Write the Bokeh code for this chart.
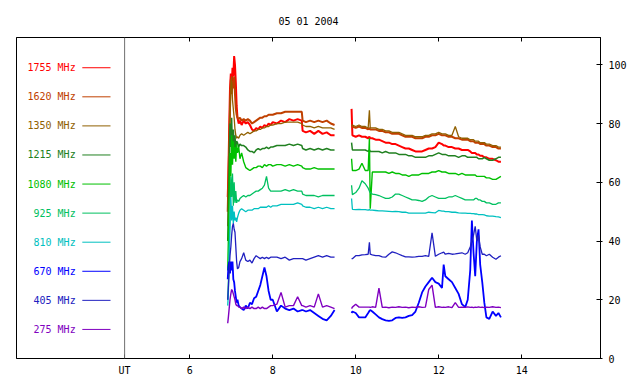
from bokeh.plotting import figure
from bokeh.models import LinearAxis, FixedTicker, Span, Range1d, ColumnDataSource
from bokeh.embed import file_html
from bokeh.resources import INLINE
from bokeh.core.properties import value

FONT = "DejaVu Sans Mono"

freq_labels = ["1755 MHz", "1620 MHz", "1350 MHz", "1215 MHz", "1080 MHz",
               "925 MHz", "810 MHz", "670 MHz", "405 MHz", "275 MHz"]
colors = ["#ff0000", "#c04000", "#906000", "#208020", "#00c000",
          "#00c060", "#00c0c0", "#0000ff", "#2020c0", "#8000c0"]
widths = [2.0, 2.0, 1.3, 1.5, 1.4, 1.3, 1.3, 1.8, 1.3, 1.4]

x_ticks = [6, 8, 10, 12, 14]
y_ticks = [0, 20, 40, 60, 80, 100]

# time (UT hours), first and second data segment
t1 = [6.915, 6.93, 6.95, 6.97, 6.99, 7.01, 7.03, 7.05, 7.07, 7.09, 7.11, 7.13, 7.15, 7.18,
      7.21, 7.25, 7.3, 7.35, 7.4, 7.45, 7.5, 7.55, 7.6, 7.65, 7.7, 7.75, 7.8, 7.85, 7.9,
      7.95, 8.0, 8.1, 8.2, 8.3, 8.4, 8.5, 8.6, 8.7, 8.72, 8.8, 8.9, 9.0, 9.1, 9.2, 9.3,
      9.4, 9.49]
t2 = [9.9, 9.92, 10.0, 10.08, 10.15, 10.23, 10.3, 10.33, 10.35, 10.4, 10.48, 10.56, 10.64,
      10.72, 10.8, 10.88, 10.96, 11.04, 11.12, 11.2, 11.28, 11.36, 11.44, 11.52, 11.6,
      11.68, 11.76, 11.84, 11.92, 12.0, 12.08, 12.12, 12.16, 12.24, 12.32, 12.4, 12.48,
      12.56, 12.64, 12.7, 12.76, 12.8, 12.84, 12.88, 12.92, 12.96, 13.0, 13.05, 13.1,
      13.15, 13.22, 13.3, 13.38, 13.44, 13.5]

f1755_a = [55, 62, 78, 92, 97, 92, 99, 96, 103, 100, 94, 86, 82, 80, 81, 79.5, 81, 80, 80.5,
           79.5, 78, 77.5, 78.5, 78, 79, 78.5, 79.5, 79, 80, 79.5, 80.5, 80, 81, 80.5, 81.5,
           81, 81.5, 81, 77.5, 77, 77.5, 76.5, 77.5, 76.5, 77, 76, 76]
f1755_b = [85, 76, 75.5, 76, 75.5, 75.5, 75, 75.5, 75, 75, 74.5, 74.5, 74, 73.5, 73.5, 73, 73,
           72.5, 72, 71.5, 71.5, 71, 70.5, 70.5, 70.5, 71, 71.5, 71.5, 72, 73.5, 73, 72.5,
           72.5, 72, 72, 71.5, 71.5, 71, 71, 71, 70.5, 70, 70, 70, 69.5, 69.5, 69, 69, 68.5,
           68.5, 68, 68, 67.5, 67, 67]
f1620_a = [50, 60, 72, 85, 95, 90, 94, 92, 96, 90, 85, 83, 82, 81.5, 82, 81, 81.5, 81, 81.5,
           81, 80, 80.5, 81, 81.5, 82, 82, 82.5, 82.5, 83, 83, 83, 83.5, 83.5, 84, 84, 84,
           84, 84, 81, 80.5, 81, 80.5, 81, 80.5, 81, 80, 79.5]
f1620_b = [79, 79, 78.5, 79, 78.5, 78.5, 78, 78.5, 78, 78, 78, 77.5, 77.5, 77, 77, 76.5, 76.5,
           76.5, 76, 75.5, 75.5, 75.5, 75, 75, 75, 75.5, 75.5, 76, 76, 76.5, 76, 76, 76, 75.5,
           75.5, 75, 75, 74.5, 74.5, 74.5, 74, 74, 74, 73.5, 73.5, 73.5, 73, 73, 73, 72.5,
           72.5, 72, 72, 71.5, 71.5]
f1350_a = [45, 55, 70, 85, 92, 96, 88, 85, 82, 78, 76, 75, 75.5, 75, 76, 76.5, 76, 76.5, 77,
           76.5, 77, 77.5, 77.5, 78, 78, 78.5, 78.5, 79, 79, 79.5, 79.5, 80, 80, 80.5, 80.5,
           80.5, 80.5, 80, 79.5, 79, 79, 78.5, 79, 78.5, 78.5, 78.5, 78]
f1350_b = [79.5, 79.5, 79, 79.5, 79, 79, 78.5, 84.5, 78.5, 78.5, 78.5, 78, 78, 77.5, 77.5, 77,
           77, 77, 76.5, 76, 76, 76, 75.5, 75.5, 75.5, 76, 76, 76.5, 76.5, 77, 76.5, 76.5,
           76.5, 76, 76, 79, 75.5, 75, 75, 75, 74.5, 74.5, 74.5, 74, 74, 74, 73.5, 73.5, 73.5,
           73, 73, 72.5, 72.5, 72, 72]
f1215_a = [40, 50, 65, 80, 72, 82, 70, 78, 72, 76, 71, 74, 73.5, 72, 73, 72.5, 72.5, 72, 71,
           70.5, 70.5, 70, 71, 71.5, 71, 71.5, 71.5, 72, 71.5, 72, 72, 72.5, 72.5, 72.5, 73,
           72.5, 73, 72.5, 71.5, 71, 71.5, 71, 71.5, 71, 71.5, 71, 71]
f1215_b = [73.5, 71, 71, 71, 71, 71, 70.5, 71, 70.5, 70.5, 70.5, 70.5, 70, 70.5, 70, 70, 70,
           69.5, 69.5, 69.5, 69, 69, 68.5, 68.5, 68.5, 68.5, 69, 69, 69.5, 70, 69.5, 69.5,
           69.5, 69, 69, 69, 68.5, 69, 69, 68.5, 68.5, 68.5, 68.5, 68.5, 68.5, 68, 68, 68,
           68.5, 68, 67.5, 67.5, 68, 68.5, 68.5]
f1080_a = [30, 40, 55, 70, 62, 76, 66, 74, 68, 72, 67, 73, 70, 72, 68, 70, 67, 65, 64.5, 64,
           64.5, 65, 65, 65.5, 65.5, 65, 66, 65.5, 66, 66, 65.5, 66, 66, 65.5, 66, 65.5, 66,
           65.5, 65, 64.5, 64.5, 65, 64.5, 64.5, 64.5, 64.5, 64.5]
f1080_b = [68, 64, 64, 64.5, 66.5, 64, 64, 75, 51, 63.5, 63.5, 63.5, 63.5, 63.5, 63, 63.5, 63,
           63, 62.5, 62.5, 62, 62.5, 62.5, 62.5, 63, 63, 63, 63.5, 63.5, 64, 63.5, 63.5, 63.5,
           63, 63, 63, 62.5, 63, 62.5, 62.5, 62.5, 62.5, 62.5, 62.5, 62, 62, 62, 62, 62, 61.5,
           61.5, 61, 61, 61.5, 62]
f925_a = [20, 25, 38, 50, 62, 55, 63, 52, 60, 53, 57, 53, 54, 53.5, 54.5, 55, 55.5, 55, 55.5,
          55.5, 56, 56.5, 57, 57, 57.5, 58, 59, 62, 58, 57, 57, 57, 57, 57.5, 57, 57.5, 57,
          57, 56, 55.5, 55.5, 55.5, 55, 55.5, 55.5, 55.5, 55.5]
f925_b = [59, 55.8, 56.5, 58, 60.5, 59.5, 58, 57, 56.5, 56, 55.8, 55.5, 55, 54.5, 54.5, 55, 56,
          56, 55.5, 55, 54.5, 54, 54, 53.8, 53.5, 54, 55, 55.5, 55, 54.5, 54.5, 54.5, 54.5,
          55, 55, 55.5, 55, 54.5, 54, 54, 54, 54, 54, 54.5, 54.5, 54, 54, 53.5, 53.5, 53, 53,
          52.5, 52.5, 53, 53]
f810_a = [18, 22, 35, 45, 55, 47, 52, 46, 50, 47, 48, 46.5, 48, 49.5, 50.5, 51, 50.5, 50, 50.5,
          50.5, 50.5, 51, 51, 51, 51.5, 51.5, 51.5, 51.5, 52, 51.5, 52, 52, 52.5, 52.5, 52.5,
          52.5, 53, 52.5, 52, 51.5, 51.5, 51, 51.5, 51, 51.5, 51, 51]
f810_b = [54.5, 50.8, 50.7, 50.8, 50.7, 50.7, 50.5, 50.7, 50.5, 50.5, 50.4, 50.3, 50.3, 50.2,
          50.1, 50, 50.1, 50, 49.8, 49.8, 49.5, 49.5, 49.5, 49.5, 49.5, 49.5, 49.8, 49.7, 49.6,
          50.4, 50.2, 50.2, 50, 50, 49.8, 49.8, 49.6, 49.5, 49.5, 49.4, 49.4, 49.3, 49.3, 49.2,
          49.2, 49, 49, 49, 48.9, 48.6, 48.5, 48.5, 48.3, 48.2, 48]
f670_a = [27, 31, 33, 29, 33, 30, 33, 27, 26, 23, 21, 19, 20, 18, 17.5, 17, 16.5, 18, 17, 19,
          18.5, 20.5, 21, 23, 25, 28, 31, 28, 23, 20, 20, 16, 18, 17, 16.5, 17, 16, 16.5, 16.5,
          16, 16.5, 15.5, 14.5, 13.5, 13, 14.5, 16.5]
f670_b = [15.5, 16, 15.5, 14, 14, 14, 15.5, 16.2, 16.5, 16, 15, 14, 13.4, 13, 12.8, 13, 13.8,
          14, 13.8, 14, 14.5, 14.8, 16, 19, 22.5, 24.5, 26, 27.5, 26, 25.5, 24, 32, 28, 27, 26,
          24, 22, 18.5, 17.5, 20, 30, 47, 36, 28, 40, 44, 32, 26, 19, 14, 13.5, 16, 14.5, 15.5,
          14]
f405_a = [20, 24, 30, 35, 38, 42, 45, 46, 44, 43, 38, 33, 30.5, 31, 33, 34, 36, 33.5, 33, 33.5,
          32.5, 34, 35, 34.5, 34, 34.5, 34, 34.5, 34, 34.5, 34.5, 34.5, 34, 34.5, 33.5, 34, 34,
          34, 34, 33.5, 34, 34.5, 35, 34.5, 35, 34.5, 34.5]
f405_b = [34, 34, 35, 35, 35.3, 35.4, 35.5, 39.6, 35.5, 35.3, 35, 35, 34.6, 34.5, 35.5, 36.3,
          36, 35.5, 35, 34.6, 34.6, 34.5, 34.6, 34.8, 34.8, 35, 34.8, 42.8, 34.8, 35.5, 36,
          36.2, 35.5, 35.8, 35.5, 35.6, 35.8, 36, 35.5, 36, 38, 40, 42, 45, 40, 42, 38, 35.5,
          35.5, 35, 35.5, 34.5, 33.8, 34.5, 35]
f275_a = [12, 14, 17, 20, 22, 23.5, 23, 22, 21, 20, 18.5, 18, 18, 17.5, 17.5, 17, 17.5, 17,
          17.5, 17, 17.5, 17, 17, 17.5, 17, 17.5, 17, 17, 17.5, 18, 18, 18.5, 22.5, 17.5, 18,
          18, 21, 18, 18, 17.5, 18, 17.5, 22, 17.5, 18, 17.5, 17]
f275_b = [17, 17.5, 18.5, 17.5, 17.5, 17.5, 17.5, 17.5, 17.4, 17.6, 17.4, 24, 17.4, 17.5, 17.3,
          17.5, 17.4, 17.6, 17.4, 17.5, 17.3, 17.5, 17.4, 17.6, 17.4, 17.5, 23.5, 25, 17.4,
          17.6, 17.4, 17.5, 17.4, 17.6, 17.3, 19, 17.4, 17.5, 17.4, 17.6, 17.4, 17.5, 17.3,
          17.5, 17.4, 17.6, 17.4, 17.5, 17.3, 17.5, 17.4, 17.6, 17.4, 17.5, 17.3]

series = [(f1755_a, f1755_b), (f1620_a, f1620_b), (f1350_a, f1350_b), (f1215_a, f1215_b),
          (f1080_a, f1080_b), (f925_a, f925_b), (f810_a, f810_b), (f670_a, f670_b),
          (f405_a, f405_b), (f275_a, f275_b)]

p = figure(width=632, height=378, x_range=Range1d(1.824, 15.9), y_range=Range1d(0, 109.3),
           output_backend="svg", toolbar_location=None, y_axis_location="right",
           title="05 01 2004", min_border_left=16, min_border_right=32,
           min_border_top=37, min_border_bottom=19)
p.background_fill_color = "white"
p.border_fill_color = "white"
p.outline_line_color = "black"
p.outline_line_width = 1
p.grid.visible = False

p.title.align = "center"
p.title.text_font = FONT
p.title.text_font_size = "10px"
p.title.text_font_style = "normal"
p.title.text_color = "black"
p.title.standoff = 22

# bottom axis
xa = p.xaxis[0]
xa.ticker = FixedTicker(ticks=[4.43] + x_ticks)
xa.major_label_overrides = {4.43: "UT"}
xa.major_tick_in = 4
xa.major_tick_out = 0
xa.minor_tick_line_color = None
xa.major_label_standoff = 6
xa.major_label_text_font = FONT
xa.major_label_text_font_size = "10px"
xa.major_label_text_color = "black"
xa.axis_line_color = "black"

# right axis
ya = p.yaxis[0]
ya.ticker = FixedTicker(ticks=y_ticks)
ya.major_tick_in = 4
ya.major_tick_out = 2
ya.minor_tick_line_color = None
ya.major_label_standoff = 6
ya.major_label_text_font = FONT
ya.major_label_text_font_size = "10px"
ya.major_label_text_color = "black"
ya.axis_line_color = "black"

# top ticks (no labels)
ta = LinearAxis(ticker=FixedTicker(ticks=x_ticks), major_tick_in=4, major_tick_out=0,
                minor_tick_line_color=None, major_label_text_font_size="0px",
                major_label_text_alpha=0, major_label_standoff=0, axis_line_color="black")
p.add_layout(ta, "above")

# separator between legend panel and data
p.add_layout(Span(location=4.43, dimension="height", line_color="#707070", line_width=1))

# data lines
nan = float("nan")
for (a, b), c, w in zip(series, colors, widths):
    p.line(t1 + [nan] + t2, a + [nan] + b, line_color=c, line_width=w)

# legend panel
leg_y = [9.9 + 9.9 * (len(freq_labels) - 1 - i) for i in range(len(freq_labels))]
src = ColumnDataSource(dict(y=leg_y, label=freq_labels, color=colors,
                            tx=[3.25] * len(leg_y), x0=[3.41] * len(leg_y),
                            x1=[4.09] * len(leg_y)))
p.text(x="tx", y="y", text="label", text_color="color", source=src, text_align="right",
       text_baseline="middle", text_font=value(FONT), text_font_size=value("10px"))
p.segment(x0="x0", y0="y", x1="x1", y1="y", line_color="color", line_width=1, source=src)

open("out.html", "w").write(file_html(p, INLINE))
